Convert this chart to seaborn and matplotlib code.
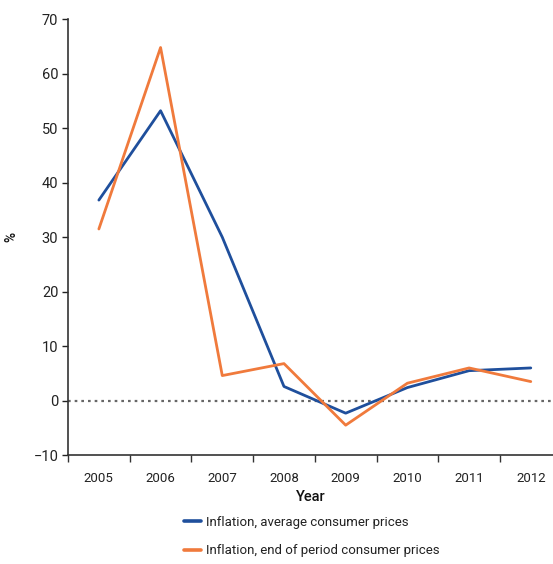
import matplotlib
import matplotlib.pyplot as plt
import pandas as pd
import seaborn as sns
from matplotlib.ticker import FixedLocator

matplotlib.use("Agg")

YEARS = ["2005", "2006", "2007", "2008", "2009", "2010", "2011", "2012"]
AVG_CPI = [36.8, 53.2, 30.0, 2.6, -2.3, 2.4, 5.5, 6.0]
EOP_CPI = [31.5, 64.8, 4.6, 6.8, -4.5, 3.2, 6.0, 3.5]
SERIES = [
    "Inflation, average consumer prices",
    "Inflation, end of period consumer prices",
]
COLORS = ["#1f4f9c", "#f07a3c"]

sns.set_style("ticks")
plt.rcParams["font.family"] = ["Roboto", "DejaVu Sans"]

df = pd.DataFrame({
    "pos": list(range(len(YEARS))) * 2,
    "value": AVG_CPI + EOP_CPI,
    "series": [SERIES[0]] * len(YEARS) + [SERIES[1]] * len(YEARS),
})

fig = plt.figure(figsize=(5.53, 5.64), dpi=100)
ax = fig.add_axes([0.123, 0.193, 0.877, 0.773])

ax.axhline(0, color="#666666", lw=1.6, ls=(0, (1.2, 1.8)), zorder=1)
sns.lineplot(data=df, x="pos", y="value", hue="series", palette=COLORS,
             linewidth=2.0, ax=ax, legend=False, zorder=3)

ax.set_xlim(-0.5, 7.36)
ax.set_ylim(-10, 70)
ax.set_yticks(range(-10, 71, 10))
ax.set_yticklabels(["\u221210"] + [str(v) for v in range(0, 71, 10)])
ax.set_xticks(range(len(YEARS)))
ax.set_xticklabels(YEARS)
ax.xaxis.set_minor_locator(FixedLocator([i - 0.5 for i in range(len(YEARS))]))
ax.tick_params(axis="x", which="major", length=0, pad=12, labelsize=9.5, colors="#222222")
ax.tick_params(axis="x", which="minor", length=5, width=1, color="#333333")
ax.tick_params(axis="y", length=4, width=1, labelsize=10.5, colors="#222222", pad=3)

for side in ["top", "right"]:
    ax.spines[side].set_visible(False)
for side in ["left", "bottom"]:
    ax.spines[side].set_color("#333333")
    ax.spines[side].set_linewidth(1.2)

ax.set_xlabel("Year", fontsize=10.5, color="#111111", fontweight="medium", labelpad=4)
ax.set_ylabel("%", fontsize=10, color="#111111", fontweight="medium")
ax.yaxis.set_label_coords(-0.103, 0.5)

handles = [plt.Line2D([], [], color=c, lw=2.6) for c in COLORS]
leg = fig.legend(handles, SERIES, loc="upper left", bbox_to_anchor=(0.333, 0.085),
                 frameon=False, fontsize=9.5, handlelength=1.3, handletextpad=0.35,
                 labelspacing=1.15, borderaxespad=0, borderpad=0)
for t in leg.get_texts():
    t.set_color("#222222")

fig.savefig("out.png", dpi=100)
